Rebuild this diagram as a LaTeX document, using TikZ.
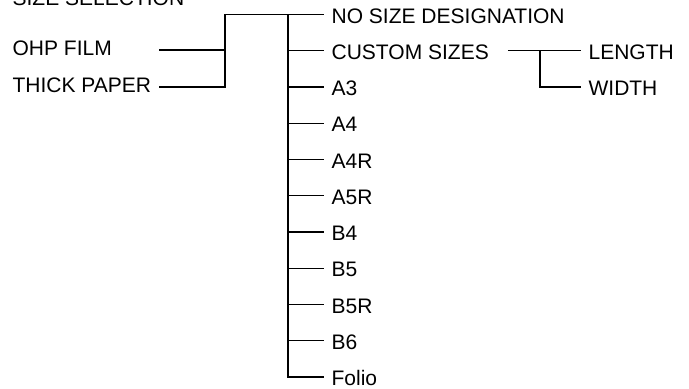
\documentclass[tikz,border=0pt]{standalone}
\usepackage{fontspec}
\setmainfont{Liberation Sans}
\usepackage{tikz}
\usetikzlibrary{positioning}

\begin{document}
\begin{tikzpicture}[x=0.5pt,y=-0.5pt,line width=0.65pt,
    font=\fontsize{10.5}{12}\selectfont,
    leaf/.style={anchor=west, inner xsep=3.5pt, inner ysep=0pt, text height=8.5pt, text depth=0pt},
    src/.style={anchor=west, inner sep=0pt, text height=5pt, text depth=0pt}]
    \useasboundingbox (0,0) rectangle (689,388);

    % Titre et supports
    \node (sel)   [anchor=base west, inner sep=0pt] at (12,5) {SIZE SELECTION};
    \node (ohp)   [src] at (12,50) {OHP FILM};
    \node (thick) [below=18.5pt of ohp.west, src] {THICK PAPER};

    % Formats
    \node (nosize) [leaf] at (324,14.5) {NO SIZE DESIGNATION};
    \node (custom) [below=18.125pt of nosize.west, leaf] {CUSTOM SIZES};
    \node (athree) [below=18.125pt of custom.west, leaf] {A3};
    \node (afour)  [below=18.125pt of athree.west, leaf] {A4};
    \node (afourr) [below=18.125pt of afour.west, leaf] {A4R};
    \node (afiver) [below=18.125pt of afourr.west, leaf] {A5R};
    \node (bfour)  [below=18.125pt of afiver.west, leaf] {B4};
    \node (bfive)  [below=18.125pt of bfour.west, leaf] {B5};
    \node (bfiver) [below=18.125pt of bfive.west, leaf] {B5R};
    \node (bsix)   [below=18.125pt of bfiver.west, leaf] {B6};
    \node (folio)  [below=18.125pt of bsix.west, leaf] {Folio};

    % Tailles libres
    \node (length) [right=42.25pt of custom.east, leaf] {LENGTH};
    \node (width)  [below=18.125pt of length.west, leaf] {WIDTH};

    % Points de jonction
    \coordinate (lx)    at (159,0);
    \coordinate (lj)    at (225,0);
    \coordinate (trunk) at (288,0);
    \coordinate (cj)    at (540,0);

    % Traits
    \draw (lx |- ohp.west) -- (lj |- ohp.west);
    \draw (lx |- thick.west) -- (lj |- thick.west) |- (nosize.west);
    \draw (trunk |- nosize.west) |- (folio.west);
    \draw (trunk |- custom.west) -- (custom.west);
    \draw (trunk |- athree.west) -- (athree.west);
    \draw (trunk |- afour.west) -- (afour.west);
    \draw (trunk |- afourr.west) -- (afourr.west);
    \draw (trunk |- afiver.west) -- (afiver.west);
    \draw (trunk |- bfour.west) -- (bfour.west);
    \draw (trunk |- bfive.west) -- (bfive.west);
    \draw (trunk |- bfiver.west) -- (bfiver.west);
    \draw (trunk |- bsix.west) -- (bsix.west);

    \draw ([xshift=5.75pt]custom.east) -- (length.west);
    \draw (cj |- length.west) |- (width.west);
\end{tikzpicture}
\end{document}
